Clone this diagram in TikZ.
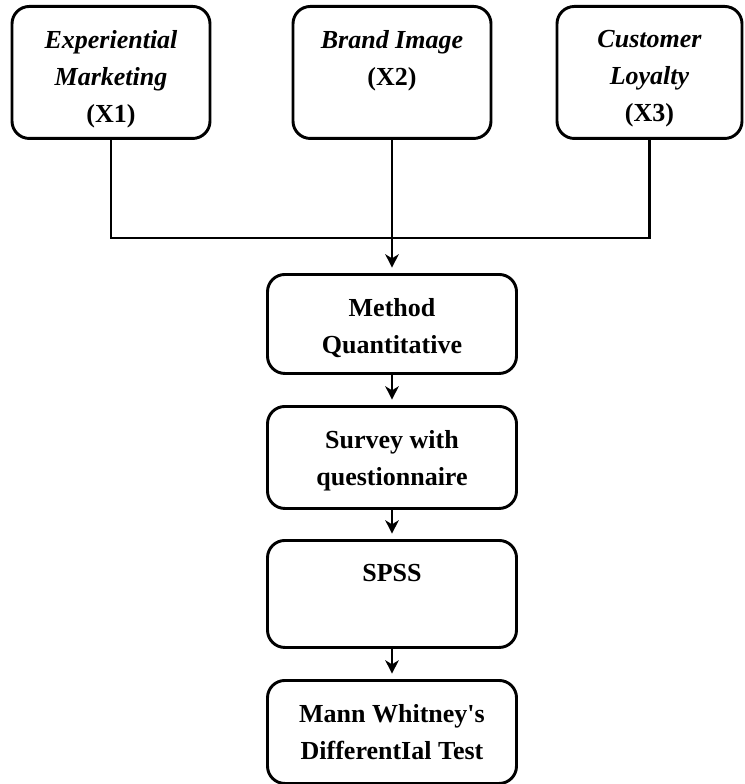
\documentclass[tikz,border=0pt]{standalone}
\usepackage{fontspec}
\setmainfont{Liberation Serif}
\usetikzlibrary{arrows.meta}

% text block that starts at the top of a box of fixed size
\newcommand{\boxlines}[3]{\parbox[c][#1][t]{#2}{\centering\vspace*{18pt}#3}}

\begin{document}
\begin{tikzpicture}[x=0.75pt, y=-0.75pt,
      stage/.style={draw, line width=2.2pt, rounded corners=13pt, inner sep=0pt,
        anchor=north, font=\fontsize{19.5pt}{27.75pt}\selectfont\bfseries},
      link/.style={line width=1.8pt},
      flow/.style={link, -{Stealth[length=10pt,width=10pt,inset=3pt]}, shorten >=4pt}]
      \useasboundingbox (0,0) rectangle (744,784);
      \node[stage] (x1) at (111,5)
        {\boxlines{99pt}{148.5pt}{\itshape Experiential\\ Marketing\\ \upshape(X1)}};
      \node[stage] (x2) at (392,5)
        {\boxlines{99pt}{148.5pt}{\itshape Brand Image\\ \upshape(X2)}};
      \node[stage] (x3) at (649.5,5)
        {\boxlines{99pt}{138.75pt}{\itshape Customer\\ Loyalty\\ \upshape(X3)}};
      \node[stage] (method) at (392,273)
        {\boxlines{74.25pt}{186.75pt}{Method\\ Quantitative}};
      \node[stage] (survey) at (392,405)
        {\boxlines{76.5pt}{186.75pt}{Survey with\\ questionnaire}};
      \node[stage] (spss) at (392,539)
        {\boxlines{80.25pt}{186.75pt}{SPSS}};
      \node[stage] (mann) at (392,679)
        {\boxlines{77.25pt}{186.75pt}{Mann Whitney\textquotesingle s\\ DifferentIal Test}};
      \coordinate (join) at (392,238);
      \draw[link] (x1.south) |- (join);
      \draw[link] (x3.south) |- (join);
      \draw[link] (x2.south) -- (join);
      \draw[flow] (join) -- (method.north);
      \draw[flow] (method) -- (survey);
      \draw[flow] (survey) -- (spss);
      \draw[flow] (spss) -- (mann);
    \end{tikzpicture}
\end{document}
